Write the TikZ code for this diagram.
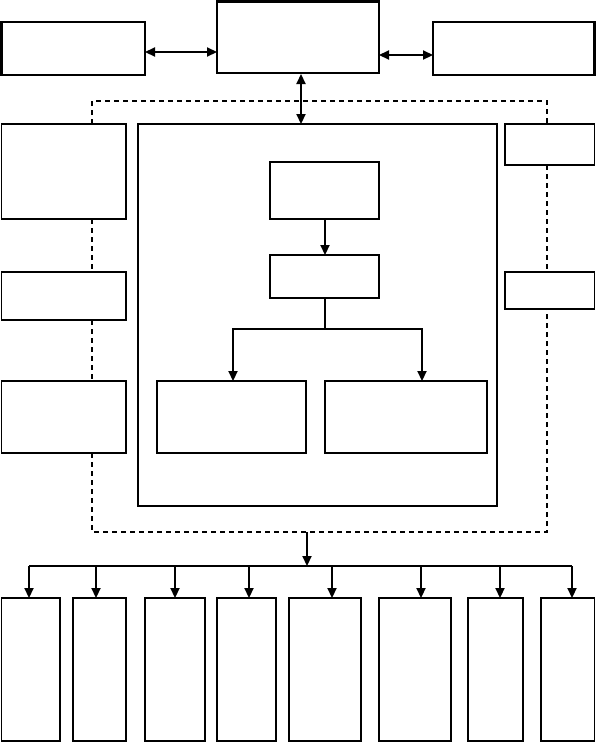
\documentclass[tikz,border=0pt]{standalone}
\usetikzlibrary{arrows.meta}
\tikzset{
  box/.style={draw=black,line width=1.8pt,fill=none,inner sep=0pt,outer sep=0pt,rectangle},
  tip/.tip={Triangle[length=10pt,width=9pt]},
  arr/.style={line width=2.2pt,-tip},
  dbl/.style={line width=2.2pt,tip-tip},
  plain/.style={line width=2.2pt},
  dsh/.style={line width=1.8pt,dash pattern=on 5pt off 4pt},
}
\newcommand\bx[6][]{\pgfmathsetmacro\bw{#5-#3}\pgfmathsetmacro\bh{#6-#4}%
  \node[box,minimum width=\bw pt,minimum height=\bh pt,#1] (#2) at ({(#3+#5)/2},{(#4+#6)/2}) {};}
\begin{document}
\begin{tikzpicture}[x=1pt,y=-1pt]
\useasboundingbox (0,0) rectangle (596,742);
% top row
\bx[line width=2.2pt]{tl}{1.5}{22}{145}{75}
\bx[line width=2.2pt]{tc}{217}{1.5}{379}{73}
\bx[line width=2.2pt]{tr}{433}{22}{594.5}{75}
% left column
\bx{l1}{1.5}{124}{126}{219}
\bx{l2}{1.5}{272}{126}{320}
\bx{l3}{1.5}{381}{126}{453}
% right column
\bx{r1}{505}{124}{594.5}{165}
\bx{r2}{505}{272}{594.5}{309}
% big box
\bx[line width=2.2pt]{big}{138}{124}{497}{506}
% inner
\bx{ia}{270}{162}{379}{219}
\bx[line width=2.2pt]{ib}{270}{255}{379}{298}
\bx{ic}{157}{381}{306}{453}
\bx{id}{325}{381}{487}{453}
% bottom row
\bx{b1}{1.5}{598}{60}{741}
\bx{b2}{73}{598}{126}{741}
\bx{b3}{145}{598}{205}{741}
\bx{b4}{217}{598}{276}{741}
\bx{b5}{289}{598}{361}{741}
\bx{b6}{379}{598}{451}{741}
\bx{b7}{468}{598}{523}{741}
\bx{b8}{541}{598}{594.5}{741}
% coordinates
\coordinate (la) at (145,52);
\coordinate (ra) at (379,55);
\coordinate (va) at (301,74);
\coordinate (dl) at (92,101);
\coordinate (dr) at (547,101);
\coordinate (dbl) at (92,532);
\coordinate (dbr) at (547,532);
\coordinate (dm) at (307,532);
\coordinate (bus0) at (307,566);
\coordinate (bus1) at (29,566);
\coordinate (bus2) at (96,566);
\coordinate (bus3) at (175,566);
\coordinate (bus4) at (249,566);
\coordinate (bus5) at (332,566);
\coordinate (bus6) at (421,566);
\coordinate (bus7) at (500,566);
\coordinate (bus8) at (572,566);
\coordinate (sp) at (325,329);
\coordinate (spl) at (233,329);
\coordinate (spr) at (422,329);
% top arrows
\draw[dbl] (la) -- (la -| tc.west);
\draw[dbl] (ra) -- (ra -| tr.west);
\draw[dbl] (va) -- (va |- big.north);
% dashed frame
\draw[dsh] (dl |- l1.north) -- (dl) -- (dr) -- (dr |- r1.north);
\draw[dsh] (dl |- l1.south) -- (dl |- l2.north);
\draw[dsh] (dl |- l2.south) -- (dl |- l3.north);
\draw[dsh] (dl |- l3.south) -- (dbl) -- (dbr) -- (dr |- r2.south);
\draw[dsh] (dr |- r1.south) -- (dr |- r2.north);
% inner tree
\draw[arr] (ia.south -| sp) -- (ib.north -| sp);
\draw[plain] (ib.south -| sp) -- (sp);
\draw[plain,line cap=rect] (spl) -- (spr);
\draw[arr] (spl) -- (spl |- ic.north);
\draw[arr] (spr) -- (spr |- id.north);
% bottom tree
\draw[arr] (dm) -- (bus0);
\draw[plain,line width=1.8pt] (bus1) -- (bus8);
\draw[arr] (bus1) -- (bus1 |- b1.north);
\draw[arr] (bus2) -- (bus2 |- b2.north);
\draw[arr] (bus3) -- (bus3 |- b3.north);
\draw[arr] (bus4) -- (bus4 |- b4.north);
\draw[arr] (bus5) -- (bus5 |- b5.north);
\draw[arr] (bus6) -- (bus6 |- b6.north);
\draw[arr] (bus7) -- (bus7 |- b7.north);
\draw[arr] (bus8) -- (bus8 |- b8.north);
\end{tikzpicture}
\end{document}
